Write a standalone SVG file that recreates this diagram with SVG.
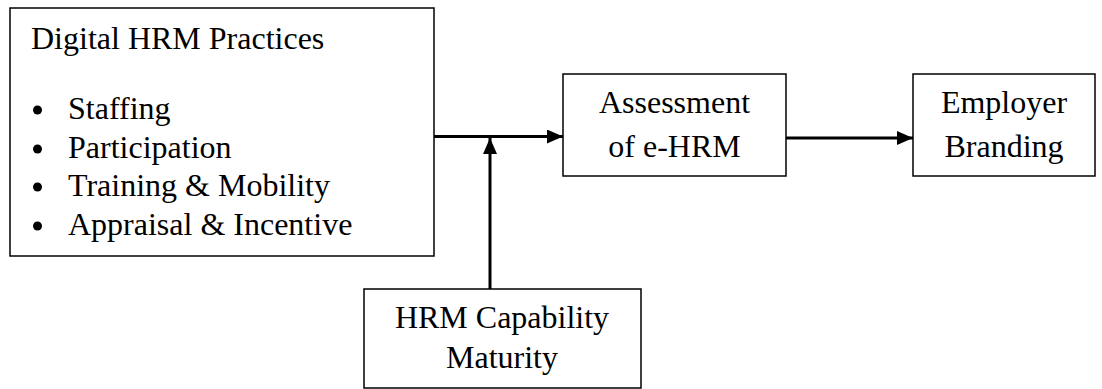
<svg xmlns="http://www.w3.org/2000/svg" width="1102" height="389" viewBox="0 0 1102 389">
<style>
.box{fill:#fff;stroke:#000;stroke-width:1.5}
.t{font-family:"Liberation Serif","Times New Roman",serif;font-size:32px;fill:#000}
.c{text-anchor:middle}
.ln{stroke:#000;stroke-width:3;fill:none}
</style>
<defs>
<marker id="ah" markerWidth="16" markerHeight="14" refX="16" refY="7" orient="auto" markerUnits="userSpaceOnUse">
<path d="M0,0 L16,7 L0,14 Z" fill="#000"/>
</marker>
</defs>
<rect width="1102" height="389" fill="#fff"/>
<g id="practices">
<rect class="box" x="10" y="8" width="424" height="248"/>
<text class="t" x="31" y="49">Digital HRM Practices</text>
<g class="t">
<circle cx="37.5" cy="110" r="4.5"/>
<circle cx="37.5" cy="149" r="4.5"/>
<circle cx="37.5" cy="187" r="4.5"/>
<circle cx="37.5" cy="226" r="4.5"/>
</g>
<text class="t" x="68" y="119">Staffing</text>
<text class="t" x="68" y="158">Participation</text>
<text class="t" x="68" y="196">Training &amp; Mobility</text>
<text class="t" x="68" y="235">Appraisal &amp; Incentive</text>
</g>
<g id="assessment">
<rect class="box" x="563" y="74" width="223" height="102"/>
<text class="t c" x="674.5" y="113">Assessment</text>
<text class="t c" x="674.5" y="157">of e-HRM</text>
</g>
<g id="branding">
<rect class="box" x="913" y="74" width="182" height="102"/>
<text class="t c" x="1004" y="113">Employer</text>
<text class="t c" x="1004" y="157">Branding</text>
</g>
<g id="maturity">
<rect class="box" x="364" y="289" width="277" height="99"/>
<text class="t c" x="502" y="328">HRM Capability</text>
<text class="t c" x="502" y="368">Maturity</text>
</g>
<g id="connectors">
<line class="ln" x1="434" y1="136.5" x2="563" y2="136.5" marker-end="url(#ah)"/>
<line class="ln" x1="490" y1="289" x2="490" y2="138" marker-end="url(#ah)"/>
<line class="ln" x1="786" y1="138" x2="913" y2="138" marker-end="url(#ah)"/>
</g>
</svg>
